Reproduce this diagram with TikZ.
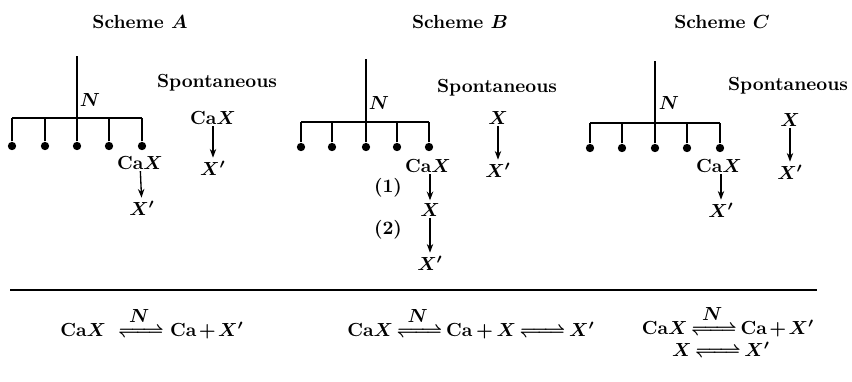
\documentclass[tikz,border=0pt]{standalone}
\usepackage{mathtools}
\usetikzlibrary{arrows.meta}
\newcommand{\eqarrow}[1]{{\xrightleftharpoons{\textstyle\hphantom{\;N\;}\mathllap{#1\;}}}}

\begin{document}
\begin{tikzpicture}[x=0.528pt,y=-0.528pt,>=Stealth,font=\bfseries\boldmath]

% canvas
\useasboundingbox (0,0) rectangle (852,381);

\tikzset{
  branch/.style={line width=0.9pt},
  site/.style={circle,fill=black,inner sep=0pt,minimum size=4.4pt},
  chem/.style={inner sep=0.5pt},
  decay/.style={line width=0.7pt,shorten >=1pt,-{Stealth[length=4.6pt,width=3.4pt]}},
  balance/.style={anchor=base,inner sep=0pt}
}

% headers
\node (ta) at (140,22) {Scheme $A$};
\node (tb) at (460,22) {Scheme $B$};
\node (tc) at (722,22) {Scheme $C$};

% scheme A
\coordinate (atop) at (77,56);
\coordinate (abar) at (77,118);
\foreach \i/\x in {1/12,2/45,3/77,4/109,5/142}{
  \node[site] (a\i) at (\x,146) {};
  \draw[branch] (a\i) -- (a\i |- abar);
}
\draw[branch] (a1 |- abar) -- (a5 |- abar);
\draw[branch] (atop) -- (a3);
\node[chem] (an) at (90,100) {$N$};
\node[chem] (acax) at (140,163) {Ca$X$};
\node[chem] (axp) at (142,208) {$X'$};
\draw[decay] (acax) -- (axp);
\node (as) at (217,83) {Spontaneous};
\node[chem] (ascax) at (213,118) {Ca$X$};
\node[chem] (asxp) at (213,168) {$X'$};
\draw[decay] (ascax) -- (asxp);

% scheme B
\coordinate (btop) at (366,59);
\coordinate (bbar) at (366,122);
\foreach \i/\x in {1/301,2/332,3/366,4/397,5/429}{
  \node[site] (b\i) at (\x,147) {};
  \draw[branch] (b\i) -- (b\i |- bbar);
}
\draw[branch] (b1 |- bbar) -- (b5 |- bbar);
\draw[branch] (btop) -- (b3);
\node[chem] (bn) at (379,103) {$N$};
\node[chem] (bcax) at (428,166) {Ca$X$};
\node[chem] (bx) at (430,210) {$X$};
\node[chem] (bxp) at (430,263) {$X'$};
\draw[decay] (bcax.south -| bx) -- (bx);
\draw[decay] (bx) -- (bxp);
\node (b1l) at (388,188) {(1)};
\node (b2l) at (388,230) {(2)};
\node (bs) at (497,88) {Spontaneous};
\node[chem] (bsx) at (498,118) {$X$};
\node[chem] (bsxp) at (498,170) {$X'$};
\draw[decay] (bsx) -- (bsxp);

% scheme C
\coordinate (ctop) at (655,61);
\coordinate (cbar) at (655,123);
\foreach \i/\x in {1/590,2/622,3/655,4/687,5/720}{
  \node[site] (c\i) at (\x,148) {};
  \draw[branch] (c\i) -- (c\i |- cbar);
}
\draw[branch] (c1 |- cbar) -- (c5 |- cbar);
\draw[branch] (ctop) -- (c3);
\node[chem] (cn) at (669,103) {$N$};
\node[chem] (ccax) at (719,166) {Ca$X$};
\node[chem] (cxp) at (721,210) {$X'$};
\draw[decay] (ccax.south -| cxp) -- (cxp);
\node (cs) at (788,86) {Spontaneous};
\node[chem] (csx) at (790,120) {$X$};
\node[chem] (csxp) at (790,172) {$X'$};
\draw[decay] (csx) -- (csxp);

% rule
\draw[line width=1pt] (10,290) -- (817,290);

% equilibria
\node[balance] (ea) at (152,336) {Ca$X\;\;\eqarrow{N}\;$Ca${}\mskip-2mu+\mskip-2mu X'$};
\node[balance] (eb) at (471,336) {Ca$X\,\eqarrow{N}\,$Ca$\,{+}\,X\,\eqarrow{}\,X'$};
\node[balance] (ec1) at (728,334) {Ca$X\,\eqarrow{N}\,$Ca${}\mskip-2mu+\mskip-2mu X'$};
\node[balance] (ec2) at (721,356) {$X\,\eqarrow{}\,X'$};

\end{tikzpicture}
\end{document}
